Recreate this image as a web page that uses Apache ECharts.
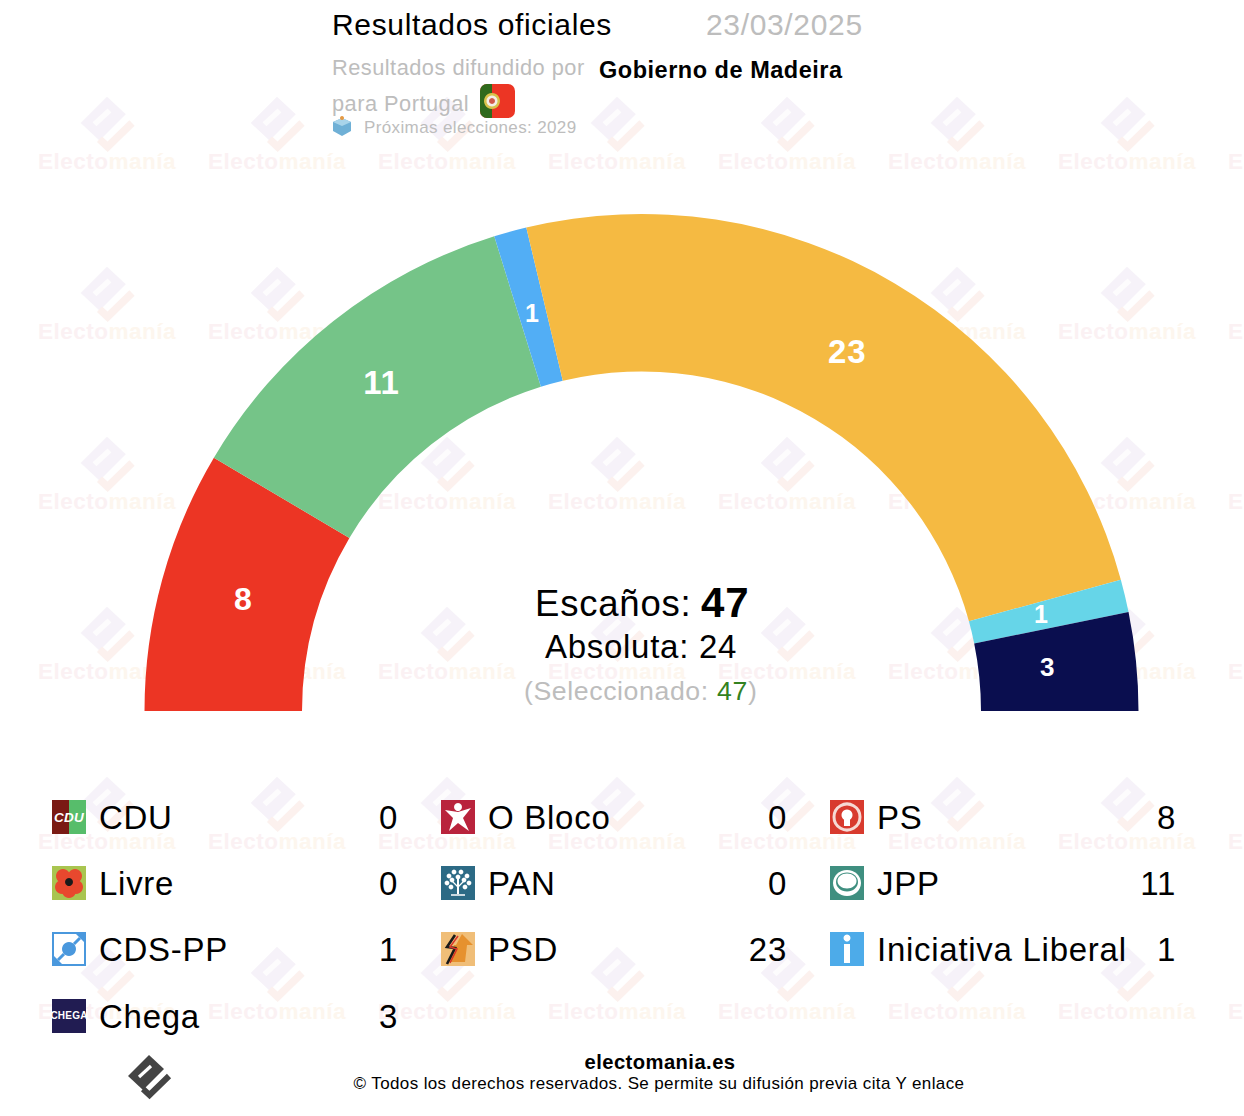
<!DOCTYPE html>
<html><head><meta charset="utf-8">
<script src="https://cdn.jsdelivr.net/npm/echarts@6/dist/echarts.min.js"></script>
<style>html,body{margin:0;padding:0;background:#fff}#c{width:1244px;height:1116px}#c text{letter-spacing:.022em}</style>
</head><body><div id="c"></div>
<script>
const arcParties = ['PS','JPP','CDS-PP','PSD','Iniciativa Liberal','Chega'];
const arcSeats = [8,11,1,23,1,3];
const arcColors = ['#ec3524','#75c488','#52aef5','#f5ba42','#66d5e8','#0a0e4f'];
const arcLabelSizes = [32,33,25,33,25,26];
const arcLabelNudge = [[8,-1],[1,2],[2,8],[-9,3],[-10,1],[-13,-2]];
const col1Names = ['CDU','Livre','CDS-PP','Chega'];
const col1Seats = [0,0,1,3];
const col2Names = ['O Bloco','PAN','PSD'];
const col2Seats = [0,0,23];
const col3Names = ['PS','JPP','Iniciativa Liberal'];
const col3Seats = [8,11,1];

const FONT = '"Liberation Sans", Arial, sans-serif';
const g = [];
const T = (x,y,text,size,fill,o={}) => g.push({type:'text',x,y,z:o.z??5,silent:true,style:{text,fill,font:`${o.font||o.weight||'normal'} ${size}px ${FONT}`,align:o.align||'left',verticalAlign:'middle'}});
const R = (x,y,w,h,fill,r=0,z=3) => g.push({type:'rect',z,silent:true,shape:{x,y,width:w,height:h,r},style:{fill}});
const C = (cx,cy,r,fill,z=4,extra={}) => g.push({type:'circle',z,silent:true,shape:{cx,cy,r},style:Object.assign({fill},extra)});
const P = (pts,fill,z=4) => g.push({type:'polygon',z,silent:true,shape:{points:pts},style:{fill}});
const L = (pts,stroke,lineWidth,z=4) => g.push({type:'polyline',z,silent:true,shape:{points:pts},style:{stroke,lineWidth,fill:'none'}});

function logo(cx,cy,s,block,slot,check,z,slotW){
  const m = a => a.map(p=>[cx+p[0]*s,cy+p[1]*s]);
  P(m([[0,-21],[-21,0],[-6,14],[15,-7]]),block,z);
  L(m([[-10,1],[2,-10]]),slot,slotW*s,z);
  L(m([[-6,13],[0.5,19],[20,0]]),check,6*s,z);
}
// watermark grid
for(let i=0;i<8;i++) for(let j=0;j<6;j++){
  const x=107+170*i, y=123+170*j;
  logo(x,y,1.25,'#f6f2f9','#fdfcfd','#fcf1ee',0,4.5);
  T(x-69,y+38,'Electo',22.5,'#fbf1f3',{weight:'bold',z:0});
  T(x+1.5,y+38,'manía',22.5,'#fdf6ee',{weight:'bold',z:0});
}
// header
T(332,24.5,'Resultados oficiales',30,'#000');
T(706,24.5,'23/03/2025',30,'#bdbdbd');
T(332,67.5,'Resultados difundido por',21.8,'#bdbdbd');
T(599,69.5,'Gobierno de Madeira',23.5,'#000',{weight:'bold'});
T(332,103,'para Portugal',21.8,'#bdbdbd');
R(480,84,35,34,'#ec3524',7);
g.push({type:'rect',z:4,silent:true,shape:{x:480,y:84,width:12,height:34,r:[7,0,0,7]},style:{fill:'#2f6a1c'}});
C(492,101,8,'#d8c24a',5); C(492,101,5.5,'#f3efe6',6); C(492,101,3,'#d2584a',7);
P([[333,122],[342,118],[351,122],[351,131],[342,136],[333,131]],'#6fb0d6');
P([[333,122],[342,126],[351,122],[342,118]],'#a9d4ea',5);
C(342,118,2,'#e59a45',6);
T(364,127,'Próximas elecciones: 2029',17,'#bdbdbd');
// centre
T(535,603,'Escaños:',36.5,'#000',{z:6});
T(701,602,'47',42,'#000',{weight:'bold',z:6});
T(641,646,'Absoluta: 24',33,'#000',{align:'center',z:6});
T(524,691,'(Seleccionado:',26.7,'#bdbdbd',{z:6});
T(717,691,'47',26.7,'#33821f',{z:6});
T(748,691,')',26.7,'#bdbdbd',{z:6});
// legend table
const rowY=[817,883,949,1016];
const cols=[[52,398,col1Names,col1Seats],[441,787,col2Names,col2Seats],[830,1176,col3Names,col3Seats]];
const icons={
 'CDU':(x,y)=>{R(x,y,17,34,'#7a1a14');R(x+17,y,17,34,'#57bd6b');T(x+17,y+17,'CDU',13.5,'#fff',{font:'italic bold',align:'center'});},
 'Livre':(x,y)=>{R(x,y,34,34,'#a9c550');[[-6,-6],[6,-6],[-7,5],[7,5],[0,9]].forEach(d=>C(x+17+d[0],y+16+d[1],7,'#e8482e'));C(x+17,y+16,4,'#1a1a1a',5);},
 'CDS-PP':(x,y)=>{R(x,y,34,34,'#4a98dd');R(x+2,y+2,30,30,'#fff',0,3);C(x+17,y+17,7,'#4a98dd');P([[x+33,y+1],[x+33,y+11],[x+23,y+1]],'#4a98dd');P([[x+1,y+33],[x+1,y+23],[x+11,y+33]],'#4a98dd');L([[x+22,y+12],[x+28,y+6]],'#4a98dd',3);L([[x+12,y+22],[x+6,y+28]],'#4a98dd',3);},
 'Chega':(x,y)=>{R(x,y,34,34,'#211c52');T(x+17,y+16,'CHEGA',10,'#fff',{weight:'bold',align:'center'});},
 'O Bloco':(x,y)=>{R(x,y,34,34,'#b9233c');C(x+17,y+7,4,'#fff');P([[x+4,y+10],[x+17,y+12],[x+30,y+8],[x+22,y+18],[x+28,y+31],[x+17,y+23],[x+8,y+31],[x+12,y+18]],'#fff');},
 'PAN':(x,y)=>{R(x,y,34,34,'#2c6a85');[[-9,-6],[-4,-10],[3,-10],[9,-6],[-11,1],[11,1],[-6,-2],[6,-2],[0,-5],[-7,5],[7,5]].forEach(d=>C(x+17+d[0],y+16+d[1],2.4,'#fff'));L([[x+17,y+28],[x+17,y+10]],'#fff',2);L([[x+10,y+29],[x+24,y+29]],'#fff',1.5);L([[x+17,y+21],[x+10,y+14]],'#fff',1.2);L([[x+17,y+21],[x+24,y+14]],'#fff',1.2);},
 'PSD':(x,y)=>{R(x,y,34,34,'#f0be78');P([[x+21,y+2],[x+32,y+13],[x+26,y+13],[x+24,y+30],[x+8,y+30],[x+13,y+13],[x+15,y+13]],'#e6912e',4);L([[x+14,y+3],[x+6,y+15],[x+14,y+16],[x+6,y+32]],'#1a1a1a',2.6,5);L([[x+17,y+4],[x+9,y+15],[x+16,y+17],[x+9,y+31]],'#d8342a',1.5,5);},
 'PS':(x,y)=>{R(x,y,34,34,'#d83a2e');C(x+17,y+17,13,'#d83a2e',4,{stroke:'#f6d9d4',lineWidth:3});C(x+17,y+15,5.5,'#fff',5);R(x+14,y+18,6,8,'#fff',0,5);},
 'JPP':(x,y)=>{R(x,y,34,34,'#3f8f80');g.push({type:'ellipse',z:4,silent:true,shape:{cx:x+17,cy:y+17,rx:14,ry:13},style:{fill:'#fff'}});g.push({type:'ellipse',z:5,silent:true,shape:{cx:x+17,cy:y+16,rx:11,ry:9.5},style:{fill:'#3f8f80'}});g.push({type:'ellipse',z:6,silent:true,shape:{cx:x+17,cy:y+15,rx:9.5,ry:7.5},style:{fill:'#fff'}});},
 'Iniciativa Liberal':(x,y)=>{R(x,y,34,34,'#4dabe9');C(x+17,y+6,3.5,'#fff');R(x+14,y+12,6,19,'#fff',0,4);}
};
cols.forEach(([ix,vx,names,seats])=>names.forEach((n,i)=>{
  icons[n](ix,rowY[i]-17);
  T(ix+47,rowY[i],n,33,'#000');
  T(vx,rowY[i],String(seats[i]),33,'#000',{align:'right'});
}));
// footer
logo(149,1076,1,'#444','#fff','#444',4,3.2);
T(660,1061.5,'electomania.es',20.2,'#000',{weight:'bold',align:'center'});
T(659,1083.5,'© Todos los derechos reservados. Se permite su difusión previa cita Y enlace',17,'#000',{align:'center'});

const chart = echarts.init(document.getElementById('c'),null,{renderer:'svg'});
chart.setOption({
  animation:false,
  backgroundColor:'#fff',
  textStyle:{fontFamily:FONT},
  tooltip:{show:false},
  graphic:{elements:g},
  series:[{
    type:'pie',z:2,
    center:[641.5,711],
    radius:[339.5,497],
    startAngle:180,endAngle:0,clockwise:true,
    avoidLabelOverlap:false,silent:true,
    itemStyle:{borderWidth:0},
    labelLine:{show:false},
    labelLayout:p=>({dx:arcLabelNudge[p.dataIndex][0],dy:arcLabelNudge[p.dataIndex][1]}),
    data:arcParties.map((name,i)=>({
      name,value:arcSeats[i],
      itemStyle:{color:arcColors[i]},
      label:{show:true,position:'inside',formatter:'{c}',color:'#fff',fontWeight:'bold',fontSize:arcLabelSizes[i],fontFamily:FONT}
    }))
  }]
});
</script></body></html>
